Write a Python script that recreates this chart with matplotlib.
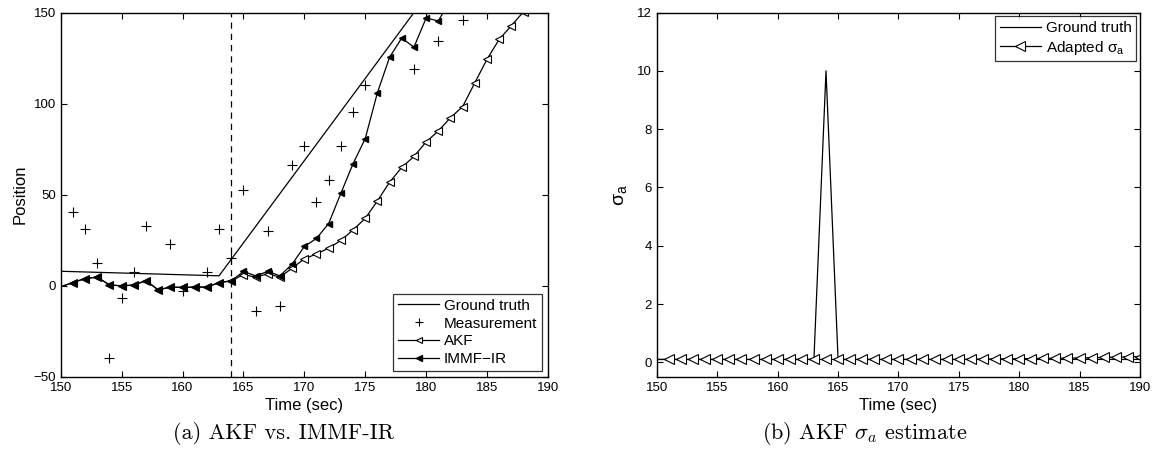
import numpy as np
import matplotlib
matplotlib.use("Agg")
import matplotlib.pyplot as plt

plt.rcParams['font.family'] = ['Liberation Sans', 'DejaVu Sans']
plt.rcParams['mathtext.fontset'] = 'cm'

# ---- left panel data ----
truth_t = [150, 163, 180]
truth_pos = [8, 5.5, 159]

meas_t = [151, 152, 153, 154, 155, 156, 157, 159, 160, 162, 163, 164, 165, 166, 167, 168,
          169, 170, 171, 172, 173, 174, 175, 179, 181, 183]
meas_pos = [40.5, 31, 12.7, -39.5, -6.8, 7.5, 33, 23, -3, 7.4, 31, 15.4, 52.7, -14, 30, -11.2,
            66.5, 77, 46, 58, 77, 95.6, 110, 119, 134.6, 146]

t_est = np.arange(150, 191)
akf = [-0.5, 1.8, 4, 4.8, 0.5, 0, 0.4, 2.9, -2.2, -0.7, -0.9, -0.7, -0.7, 1.8, 2.7, 6.2,
       4.8, 6.6, 4.8, 9.7, 14.8, 17.5, 20.7, 24.9, 30.7, 37, 46.6, 56.9, 65, 71, 79, 85,
       92.3, 98.4, 111.5, 124.4, 135.3, 142.8, 150.5, 158, 165]
immf_t = np.arange(150, 183)
immf = [-0.5, 1.8, 4, 4.8, 0.5, 0, 0.4, 2.9, -2.2, -0.7, -0.9, -0.7, -0.7, 1.8, 2.7, 7.9,
        5.5, 7.9, 5.5, 11.9, 21.6, 26, 34.2, 50.8, 67, 80.8, 106, 125.5, 136, 131, 147,
        145.4, 157]

# ---- right panel data ----
sig_t = np.arange(150, 191)
sig_truth = [0.1] * 14 + [10] + [0.1] * 26
sig_adapt = [0.1] * 26 + [0.105, 0.11, 0.115, 0.12, 0.125, 0.13, 0.135, 0.14, 0.145, 0.15,
                          0.16, 0.17, 0.18, 0.19, 0.2]

fig = plt.figure(figsize=(11.56, 4.58), dpi=100)
ax1 = fig.add_axes([0.0525, 0.177, 0.4215, 0.7956])
ax2 = fig.add_axes([0.5683, 0.177, 0.4178, 0.7956])

ax1.plot(truth_t, truth_pos, color='black', lw=0.9, label='Ground truth')
ax1.plot(meas_t, meas_pos, ls='none', marker='+', ms=7, mew=0.8, color='black', label='Measurement')
ax1.plot(t_est, akf, color='black', lw=0.9, marker='<', ms=5.5, mfc='white', mec='black',
         mew=0.8, markevery=slice(1, None), label='AKF')
ax1.plot(immf_t, immf, color='black', lw=0.9, marker='<', ms=5, mfc='black', mec='black',
         markevery=slice(1, None), label='IMMF\u2212IR')
ax1.axvline(164, color='black', lw=0.9, ls=(0, (5, 4)))
ax1.set_xlim(150, 190)
ax1.set_ylim(-50, 150)
ax1.set_xticks(np.arange(150, 191, 5))
ax1.set_yticks([-50, 0, 50, 100, 150])
ax1.set_xlabel('Time (sec)', fontsize=12, labelpad=3)
ax1.set_ylabel('Position', fontsize=12, labelpad=4)
leg1 = ax1.legend(loc='lower right', fontsize=11, frameon=True, fancybox=False, edgecolor='black',
                  handlelength=2.7, handletextpad=0.3, labelspacing=0.25, borderaxespad=0.4,
                  borderpad=0.3, markerscale=0.8)
leg1.get_frame().set_linewidth(0.9)

ax2.plot(sig_t, sig_truth, color='black', lw=0.9, label='Ground truth')
ax2.plot(sig_t, sig_adapt, color='black', lw=0.9, marker='<', ms=6.5, mfc='white', mec='black',
         mew=0.8, markevery=slice(1, None), label=r'Adapted $\mathregular{\sigma_a}$')
ax2.set_xlim(150, 190)
ax2.set_ylim(-0.5, 12)
ax2.set_xticks(np.arange(150, 191, 5))
ax2.set_yticks(np.arange(0, 13, 2))
ax2.set_xlabel('Time (sec)', fontsize=12, labelpad=3)
ax2.set_ylabel(r'$\mathregular{\sigma_a}$', fontsize=14, labelpad=6)
leg2 = ax2.legend(loc='upper right', fontsize=11, frameon=True, fancybox=False, edgecolor='black',
                  handlelength=2.7, handletextpad=0.3, labelspacing=0.25, borderaxespad=0.25,
                  borderpad=0.3)
leg2.get_frame().set_linewidth(0.9)

for ax in (ax1, ax2):
    ax.tick_params(direction='in', top=True, right=True, labelsize=9.5, length=4, width=0.8)
    for s in ax.spines.values():
        s.set_linewidth(1.0)

fig.text(0.245, 0.053, '(a) AKF vs. IMMF-IR', fontsize=16, family='cmr10', ha='center', va='center')
fig.text(0.748, 0.053, r'(b) AKF $\sigma_a$ estimate', fontsize=16, family='cmr10', ha='center', va='center')

fig.savefig('out.png', dpi=100)
